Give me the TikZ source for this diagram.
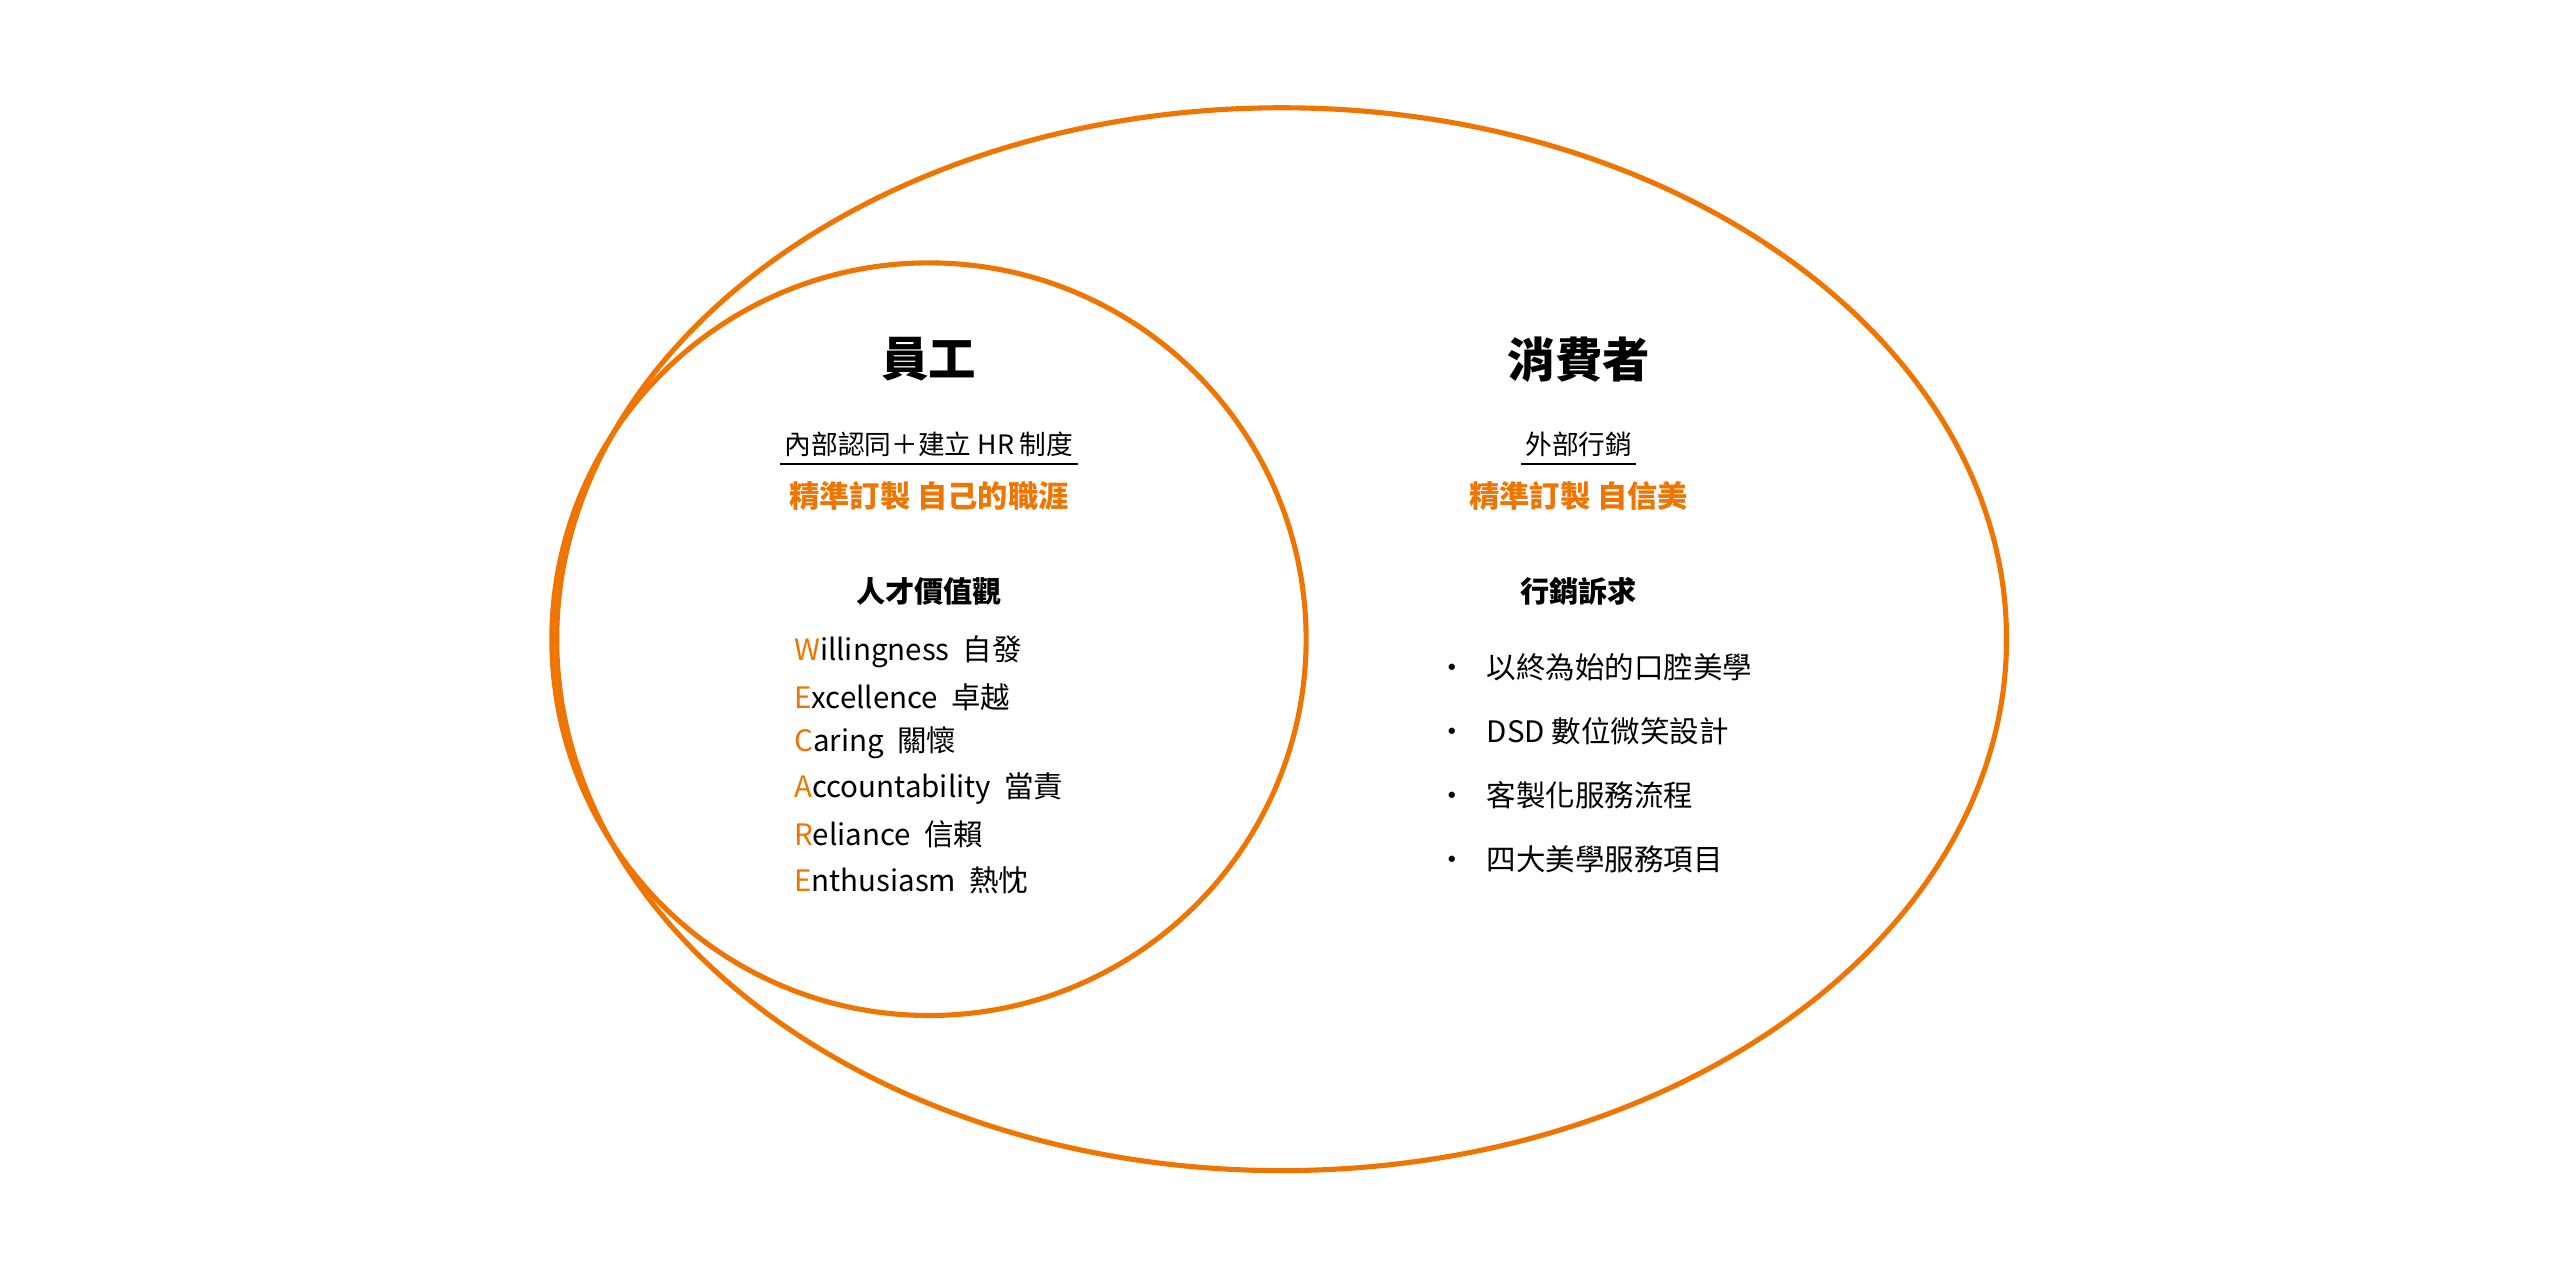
\documentclass[tikz,border=0pt]{standalone}
\usepackage{fontspec}
\setmainfont{Noto Sans CJK TC}
\definecolor{org}{HTML}{F07400}
\begin{document}
\begin{tikzpicture}[x=0.016327cm,y=-0.016327cm,
 ring/.style={draw=org,line width=1.45pt},
 ttl/.style={font=\fontsize{13.5}{15}\selectfont\bfseries},
 sub/.style={font=\fontsize{7.6}{9}\selectfont,inner sep=1pt},
 hl/.style={font=\fontsize{8.6}{10}\selectfont\bfseries,text=org},
 hd/.style={font=\fontsize{8.3}{10}\selectfont\bfseries},
 it/.style={font=\fontsize{8.4}{10}\selectfont,anchor=west,inner sep=0pt}]
\useasboundingbox (0,0) rectangle (1568,784);
\draw[ring] (785,391.5) ellipse [x radius=444,y radius=325.5];
\draw[ring] (569,391.5) ellipse [x radius=231,y radius=230.5];
\node[ttl] (e) at (569,220) {員工};
\node[sub] (es) at (569,272) {內部認同＋建立 HR 制度};
\draw[line width=0.6pt] ([yshift=-1pt]es.south west) -- ([yshift=-1pt]es.south east);
\node[hl] (eh) at (569,304) {精準訂製 自己的職涯};
\node[hd] (ev) at (569,362) {人才價值觀};
\node[it] (w1) at (486,399) {\textcolor{org}{W}illingness\ \ 自發};
\node[it] (w2) at (486,427) {\textcolor{org}{E}xcellence\ \ 卓越};
\node[it] (w3) at (486,455) {\textcolor{org}{C}aring\ \ 關懷};
\node[it] (w4) at (486,483) {\textcolor{org}{A}ccountability\ \ 當責};
\node[it] (w5) at (486,511) {\textcolor{org}{R}eliance\ \ 信賴};
\node[it] (w6) at (486,539) {\textcolor{org}{E}nthusiasm\ \ 熱忱};
\node[ttl] (c) at (967,220) {消費者};
\node[sub] (cs) at (967,272) {外部行銷};
\draw[line width=0.6pt] ([yshift=-1pt]cs.south west) -- ([yshift=-1pt]cs.south east);
\node[hl] (ch) at (967,304) {精準訂製 自信美};
\node[hd] (cv) at (967,362) {行銷訴求};
\node[it] (b1) at (880,409) {·\ \ \ 以終為始的口腔美學};
\node[it] (b2) at (880,448) {·\ \ \ DSD 數位微笑設計};
\node[it] (b3) at (880,487) {·\ \ \ 客製化服務流程};
\node[it] (b4) at (880,526) {·\ \ \ 四大美學服務項目};
\end{tikzpicture}
\end{document}
